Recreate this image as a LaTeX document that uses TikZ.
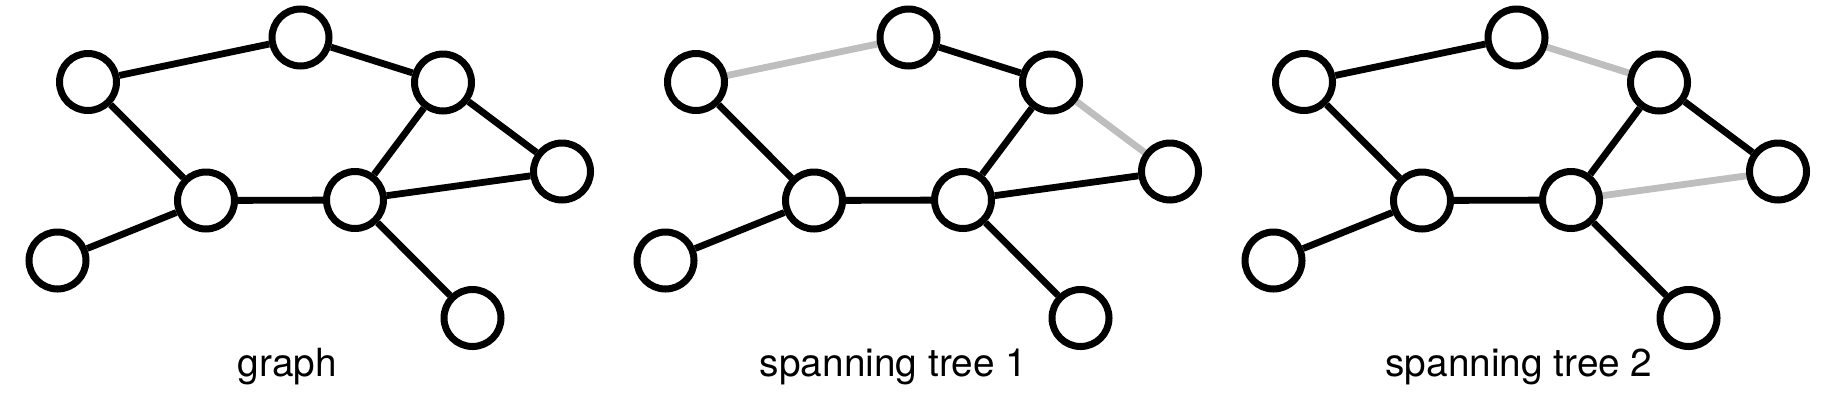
\documentclass[tikz,border=0pt]{standalone}
\usepackage{fontspec}
\setmainfont{TeX Gyre Heros}
\pgfdeclarelayer{background}
\pgfsetlayers{background,main}
\definecolor{cutgray}{RGB}{190,190,190}
\tikzset{
  vert/.style={circle, draw=black, fill=white, line width=3.5pt, inner sep=0pt, minimum size=28.5pt},
  keep/.style={draw=black, line width=3.4pt},
  cut/.style={draw=cutgray, line width=3.4pt},
  caption/.style={anchor=base, inner sep=0pt, font=\fontsize{19.4pt}{22pt}\selectfont}
}
\begin{document}
\begin{tikzpicture}[x=0.5pt,y=-0.5pt]
\useasboundingbox (0,0) rectangle (1824,408);
\foreach \k/\dx in {1/0, 2/608, 3/1216}{
  \node[vert] (A\k) at (88+\dx,82) {};
  \node[vert] (B\k) at (300.5+\dx,37.5) {};
  \node[vert] (C\k) at (443+\dx,82.5) {};
  \node[vert] (D\k) at (562+\dx,171.5) {};
  \node[vert] (E\k) at (206+\dx,200.5) {};
  \node[vert] (F\k) at (355+\dx,200) {};
  \node[vert] (G\k) at (57.5+\dx,260.5) {};
  \node[vert] (H\k) at (472.5+\dx,318) {};
}
\begin{pgfonlayer}{background}
  % graph
  \draw[keep] (A1) -- (B1);
  \draw[keep] (B1) -- (C1);
  \draw[keep] (A1) -- (E1);
  \draw[keep] (C1) -- (F1);
  \draw[keep] (C1) -- (D1);
  \draw[keep] (E1) -- (F1);
  \draw[keep] (F1) -- (D1);
  \draw[keep] (E1) -- (G1);
  \draw[keep] (F1) -- (H1);
  % spanning tree 1
  \draw[cut] (A2) -- (B2);
  \draw[keep] (B2) -- (C2);
  \draw[keep] (A2) -- (E2);
  \draw[keep] (C2) -- (F2);
  \draw[cut] (C2) -- (D2);
  \draw[keep] (E2) -- (F2);
  \draw[keep] (F2) -- (D2);
  \draw[keep] (E2) -- (G2);
  \draw[keep] (F2) -- (H2);
  % spanning tree 2
  \draw[keep] (A3) -- (B3);
  \draw[cut] (B3) -- (C3);
  \draw[keep] (A3) -- (E3);
  \draw[keep] (C3) -- (F3);
  \draw[keep] (C3) -- (D3);
  \draw[keep] (E3) -- (F3);
  \draw[cut] (F3) -- (D3);
  \draw[keep] (E3) -- (G3);
  \draw[keep] (F3) -- (H3);
\end{pgfonlayer}
\node[caption] (L1) at (287.5,376.7) {graph};
\node[caption] (L2) at (893.5,376.7) {spanning tree 1};
\node[caption] (L3) at (1519,376.7) {spanning tree 2};
\end{tikzpicture}
\end{document}
